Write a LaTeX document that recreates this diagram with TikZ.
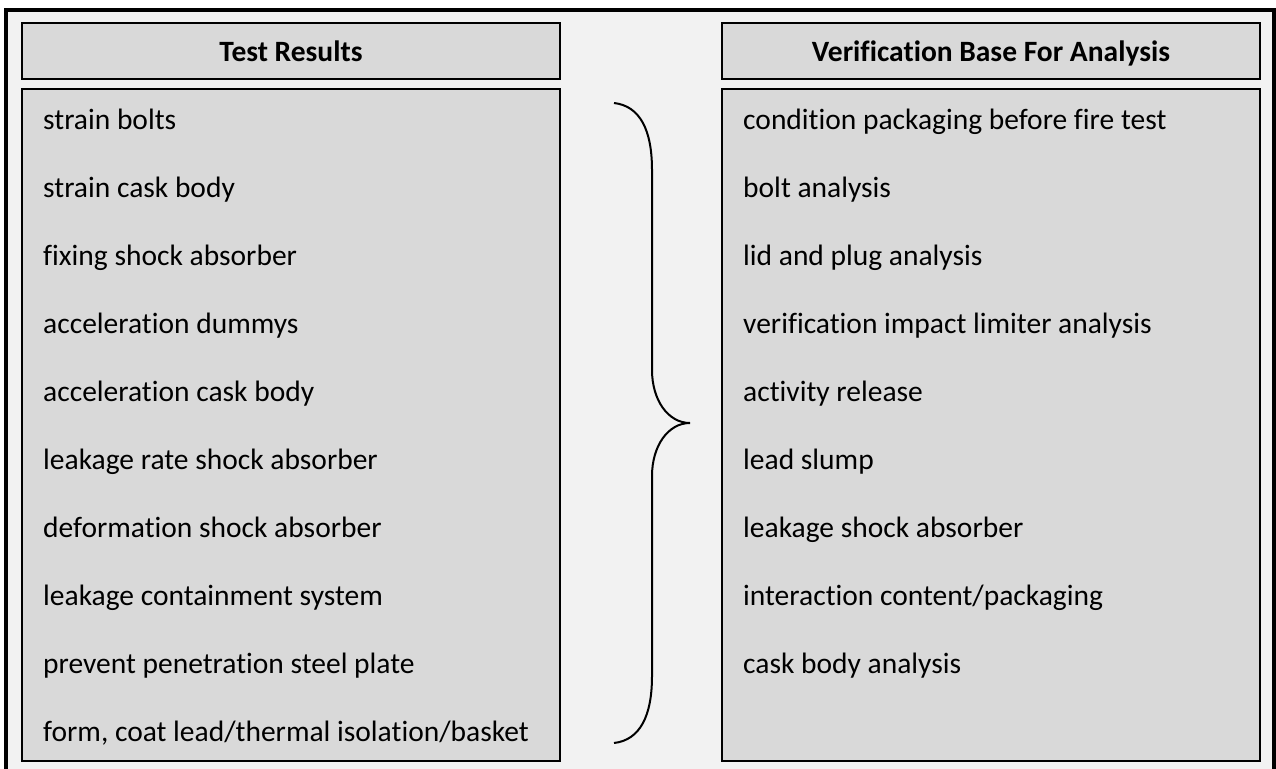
\documentclass[tikz,border=0pt]{standalone}
\usepackage{fontspec}
\setmainfont{Carlito}[Ligatures=NoCommon]
\usepackage{tikz}

\definecolor{pagegray}{HTML}{F2F2F2}
\definecolor{boxgray}{HTML}{D9D9D9}

\tikzset{
  panel/.style={draw=black,line width=2pt,fill=boxgray},
  head/.style={anchor=base,inner sep=0pt,font=\fontsize{29.5}{34}\selectfont\bfseries},
  item/.style={anchor=base west,inner sep=0pt,font=\fontsize{29.5}{34}\selectfont}
}

\begin{document}
\begin{tikzpicture}[x=1pt,y=-1pt]
    \useasboundingbox (0,0) rectangle (1276,768);
    \clip (0,0) rectangle (1276,768);
    \fill[white] (0,0) rectangle (1276,768);
    \draw[line width=4pt,fill=pagegray] (6,10) rectangle (1274,790);

    % left column
    \draw[panel] (22,23) rectangle (560,79);
    \draw[panel] (22,89) rectangle (560,761);
    \node [head] (lhead) at (291,62) {Test Results};
    \node [item] (l1) at (43,129) {strain bolts};
    \node [item] (l2) at (43,197) {strain cask body};
    \node [item] (l3) at (43,265) {fixing shock absorber};
    \node [item] (l4) at (43,333) {acceleration dummys};
    \node [item] (l5) at (43,401) {acceleration cask body};
    \node [item] (l6) at (43,469) {leakage rate shock absorber};
    \node [item] (l7) at (43,537) {deformation shock absorber};
    \node [item] (l8) at (43,605) {leakage containment system};
    \node [item] (l9) at (43,673) {prevent penetration steel plate};
    \node [item] (l10) at (43,741) {form, coat lead/thermal isolation/basket};

    % right column
    \draw[panel] (722,23) rectangle (1260,79);
    \draw[panel] (722,89) rectangle (1260,761);
    \node [head] (rhead) at (991,62) {Verification Base For Analysis};
    \node [item] (r1) at (743,129) {condition packaging before fire test};
    \node [item] (r2) at (743,197) {bolt analysis};
    \node [item] (r3) at (743,265) {lid and plug analysis};
    \node [item] (r4) at (743,333) {verification impact limiter analysis};
    \node [item] (r5) at (743,401) {activity release};
    \node [item] (r6) at (743,469) {lead slump};
    \node [item] (r7) at (743,537) {leakage shock absorber};
    \node [item] (r8) at (743,605) {interaction content/packaging};
    \node [item] (r9) at (743,673) {cask body analysis};

    % brace
    \draw[line width=2pt]
        (614,103) .. controls (640,106) and (652,130) .. (652,170)
        -- (652,370) .. controls (652,400) and (668,423) .. (690,423)
        .. controls (668,423) and (652,446) .. (652,476)
        -- (652,676) .. controls (652,716) and (640,740) .. (614,743);
\end{tikzpicture}
\end{document}
